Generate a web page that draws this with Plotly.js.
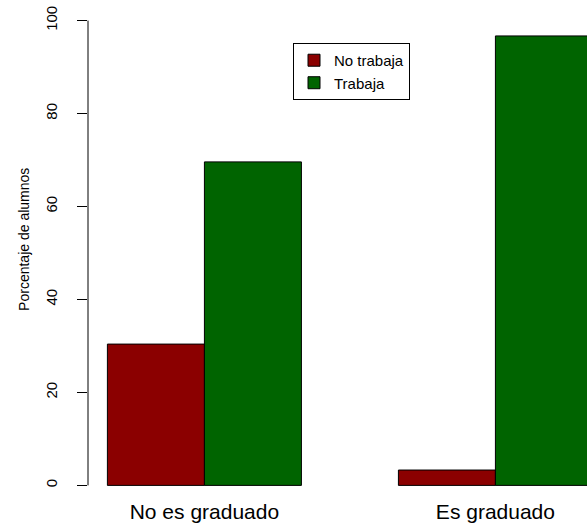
<!DOCTYPE html>
<html>
<head>
<meta charset="utf-8">
<script src="https://cdn.plot.ly/plotly-3.0.1.min.js"></script>
<style>html,body{margin:0;padding:0;background:#fff;}#chart{width:587px;height:527px;}</style>
</head>
<body>
<div id="chart"></div>
<script>
// Data
const categories = ["No es graduado", "Es graduado"];
const seriesNames = ["No trabaja", "Trabaja"];
const noTrabaja = [30.4, 3.3];
const trabaja = [69.6, 96.7];
const yTicks = [0, 20, 40, 60, 80, 100];
const yTitle = "Porcentaje de alumnos";

const colors = ["#8B0000", "#006400"];
const fontFam = "Liberation Sans, Arial, sans-serif";

const traces = [noTrabaja, trabaja].map((vals, i) => ({
  type: "bar",
  x: categories,
  y: vals,
  name: seriesNames[i],
  marker: {color: colors[i], line: {color: "#000", width: 1}},
  hoverinfo: "x+y+name"
}));

const W = 587, H = 527;
const mTop = 2, yMax = 104, yMin = -2.5;
const pxPerUnit = 4.65;
const plotH = (yMax - yMin) * pxPerUnit;
const mBottom = H - mTop - plotH;
const mLeft = 88;

const layout = {
  width: W, height: H,
  margin: {l: mLeft, r: 0, t: mTop, b: mBottom, pad: 0},
  paper_bgcolor: "#fff", plot_bgcolor: "#fff",
  font: {family: fontFam, color: "#000"},
  barmode: "group",
  bargap: 1/3,
  bargroupgap: 0,
  showlegend: true,
  legend: {
    x: (293 - mLeft) / (W - mLeft), xanchor: "left",
    y: 1 - (43 - mTop) / plotH, yanchor: "top",
    bordercolor: "#000", borderwidth: 1,
    bgcolor: "#fff",
    font: {size: 15, family: fontFam, color: "#000"},
    traceorder: "normal"
  },
  xaxis: {
    type: "category",
    range: [-0.4, 1.3147],
    showline: false, showgrid: false, zeroline: false,
    ticks: "",
    tickfont: {size: 21, family: fontFam, color: "#000"},
    automargin: false,
    fixedrange: true
  },
  yaxis: {
    range: [yMin, yMax],
    tickvals: yTicks,
    ticktext: yTicks.map(String),
    tickangle: -90,
    ticks: "outside", ticklen: 10, tickwidth: 1, tickcolor: "#000",
    ticklabelstandoff: 14,
    tickfont: {size: 15, family: fontFam, color: "#000"},
    showline: false, showgrid: false, zeroline: false,
    automargin: false,
    fixedrange: true
  },
  shapes: [{
    type: "line", xref: "paper", yref: "y",
    x0: 0, x1: 0, y0: yTicks[0], y1: yTicks[yTicks.length - 1],
    line: {color: "#000", width: 1}
  }],
  annotations: [{
    text: yTitle, textangle: -90,
    xref: "paper", yref: "paper",
    x: (24 - mLeft) / (W - mLeft), y: 1 - (240 - mTop) / plotH,
    xanchor: "center", yanchor: "middle",
    showarrow: false,
    font: {size: 14, family: fontFam, color: "#000"}
  }]
};

Plotly.newPlot("chart", traces, layout, {displayModeBar: false, staticPlot: true});
</script>
</body>
</html>
